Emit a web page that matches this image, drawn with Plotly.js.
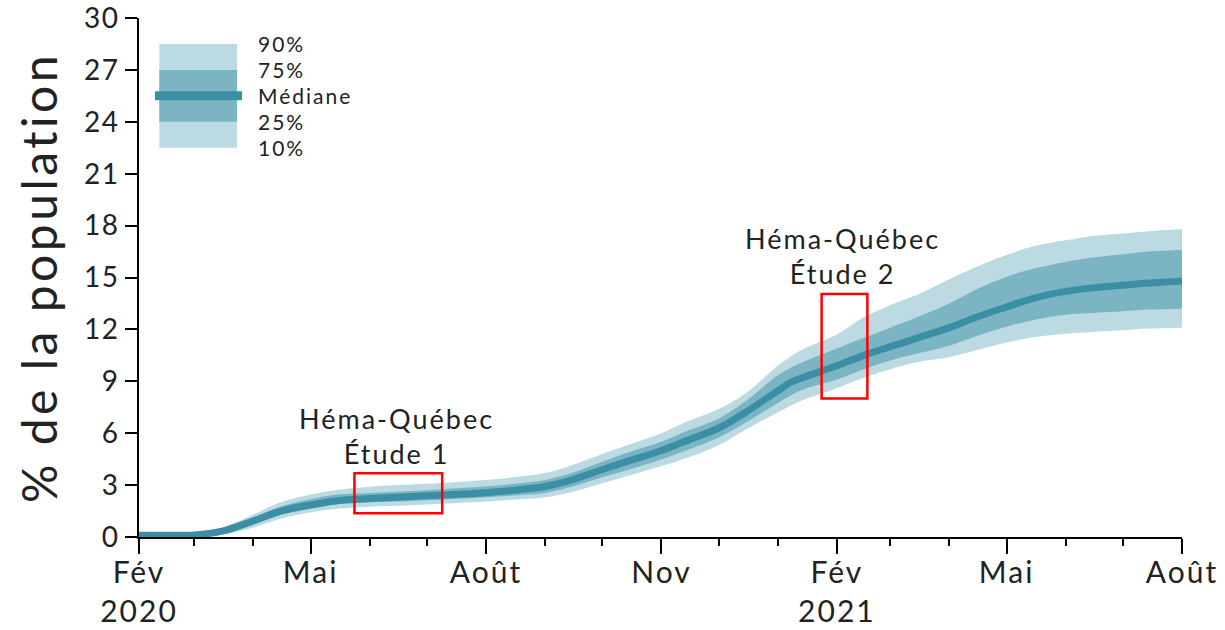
<!DOCTYPE html>
<html><head><meta charset="utf-8">
<script src="https://cdn.plot.ly/plotly-3.0.1.min.js"></script>
<style>
html,body{margin:0;padding:0;background:#fff}
#chart{width:1225px;height:630px}
#chart text{letter-spacing:1.5px}
#chart .xtick text{letter-spacing:2px}
#chart .annotation-text{letter-spacing:2px}
#chart .g-ytitle text{letter-spacing:3.5px}
</style>
</head><body><div id="chart"></div>
<script>
// Dates and percentile series (% of population)
const dates = ['2020-02-01','2020-02-15','2020-03-01','2020-03-15','2020-04-01','2020-04-15','2020-05-01','2020-05-15','2020-06-01','2020-06-15','2020-07-01','2020-07-15','2020-08-01','2020-08-15','2020-09-01','2020-09-15','2020-10-01','2020-10-15','2020-11-01','2020-11-15','2020-12-01','2020-12-15','2021-01-01','2021-01-08','2021-01-15','2021-02-01','2021-02-15','2021-03-01','2021-03-15','2021-04-01','2021-04-15','2021-05-01','2021-05-15','2021-06-01','2021-06-15','2021-07-01','2021-07-15','2021-08-01'];
const p10 = [0.05,0.05,0.05,0.12,0.55,1.05,1.42,1.63,1.75,1.80,1.88,1.95,2.05,2.15,2.30,2.60,3.10,3.55,4.10,4.60,5.30,6.20,7.20,7.60,7.95,8.60,9.20,9.70,10.10,10.40,10.80,11.25,11.55,11.75,11.85,11.95,12.05,12.10];
const p25 = [0.08,0.08,0.09,0.22,0.78,1.28,1.65,1.90,2.00,2.05,2.12,2.20,2.30,2.40,2.55,2.90,3.45,3.90,4.50,5.05,5.75,6.60,7.75,8.20,8.55,9.10,9.70,10.20,10.60,11.05,11.60,12.15,12.55,12.85,12.95,13.05,13.15,13.20];
const p50 = [0.10,0.10,0.12,0.32,0.93,1.48,1.85,2.10,2.22,2.30,2.38,2.46,2.56,2.70,2.92,3.30,3.90,4.40,5.00,5.60,6.30,7.20,8.45,8.95,9.25,9.90,10.50,11.00,11.50,12.10,12.70,13.30,13.80,14.20,14.40,14.55,14.68,14.80];
const p75 = [0.13,0.13,0.16,0.42,1.12,1.75,2.18,2.45,2.55,2.62,2.70,2.80,2.92,3.07,3.30,3.70,4.35,4.90,5.50,6.15,6.85,7.85,9.35,9.80,10.15,10.90,11.50,12.10,12.70,13.50,14.30,15.05,15.50,15.90,16.15,16.35,16.50,16.60];
const p90 = [0.18,0.18,0.22,0.52,1.30,2.00,2.45,2.72,2.90,3.00,3.08,3.17,3.30,3.45,3.70,4.15,4.80,5.35,6.00,6.70,7.40,8.30,9.90,10.45,10.90,11.70,12.70,13.40,14.00,14.90,15.60,16.30,16.80,17.15,17.40,17.55,17.68,17.80];

// Axis ticks
const yTicks = [0,3,6,9,12,15,18,21,24,27,30];
const xTickVals = ['2020-02-01','2020-05-01','2020-08-01','2020-11-01','2021-02-01','2021-05-01','2021-08-01'];
const xTickText = ['Fév<br>2020','Mai','Août','Nov','Fév<br>2021','Mai','Août'];
const xMinorVals = ['2020-03-01','2020-04-01','2020-06-01','2020-07-01','2020-09-01','2020-10-01','2020-12-01','2021-01-01','2021-03-01','2021-04-01','2021-06-01','2021-07-01'];

// Studies (Héma-Québec)
const studyNames = ['Héma-Québec<br>Étude 1','Héma-Québec<br>Étude 2'];
const studyStart = ['2020-05-24','2021-01-24'];
const studyEnd = ['2020-07-09','2021-02-17'];
const studyLow = [1.38, 8.0];
const studyHigh = [3.68, 14.05];
const studyLabelX = ['2020-06-15','2021-02-04'];
const studyLabelY = [5.86, 16.25];

// Custom legend
const legendLabels = ['90%','75%','Médiane','25%','10%'];
const legendLevels = [28.5, 27, 25.5, 24, 22.5];

const cLight = '#bcdae1', cMid = '#7bb4c3', cDark = '#3a8fa5';
const FONT = 'Lato, "Open Sans", sans-serif';

const base = {x: dates, mode: 'lines', hoverinfo: 'skip', showlegend: false};
const traces = [
  Object.assign({}, base, {y: p10, line: {width: 0, shape: 'spline', color: cLight}}),
  Object.assign({}, base, {y: p90, line: {width: 0, shape: 'spline', color: cLight}, fill: 'tonexty', fillcolor: cLight}),
  Object.assign({}, base, {y: p25, line: {width: 0, shape: 'spline', color: cMid}}),
  Object.assign({}, base, {y: p75, line: {width: 0, shape: 'spline', color: cMid}, fill: 'tonexty', fillcolor: cMid}),
  Object.assign({}, base, {y: p50, line: {width: 7, shape: 'spline', color: cDark}})
];

const shapes = [
  {type: 'rect', xref: 'paper', yref: 'y', x0: 0.0195, x1: 0.094, y0: legendLevels[4], y1: legendLevels[0], fillcolor: cLight, line: {width: 0}, layer: 'below'},
  {type: 'rect', xref: 'paper', yref: 'y', x0: 0.0195, x1: 0.094, y0: legendLevels[3], y1: legendLevels[1], fillcolor: cMid, line: {width: 0}, layer: 'below'},
  {type: 'line', xref: 'paper', yref: 'y', x0: 0.0153, x1: 0.0988, y0: legendLevels[2], y1: legendLevels[2], line: {color: cDark, width: 9}}
];
studyStart.forEach((s, i) => shapes.push({type: 'rect', xref: 'x', yref: 'y', x0: s, x1: studyEnd[i], y0: studyLow[i], y1: studyHigh[i], line: {color: '#ff0000', width: 2.5}, fillcolor: 'rgba(0,0,0,0)'}));

const annotations = [];
legendLabels.forEach((t, i) => annotations.push({xref: 'paper', yref: 'y', x: 0.112, y: legendLevels[i], xanchor: 'left', yanchor: 'middle', align: 'left', text: t, showarrow: false, font: {family: FONT, size: 21, color: '#222'}}));
studyNames.forEach((t, i) => annotations.push({xref: 'x', yref: 'y', x: studyLabelX[i], y: studyLabelY[i], xanchor: 'center', yanchor: 'middle', text: t, showarrow: false, font: {family: FONT, size: 27, color: '#222'}}));

const layout = {
  width: 1225, height: 630,
  margin: {l: 139, r: 43, t: 18, b: 93},
  paper_bgcolor: '#fff', plot_bgcolor: '#fff',
  font: {family: FONT, color: '#222'},
  xaxis: {
    type: 'date', range: ['2020-02-01', '2021-08-01'],
    tickmode: 'array', tickvals: xTickVals, ticktext: xTickText,
    ticks: 'outside', ticklen: 15, tickwidth: 2, tickcolor: '#000',
    ticklabelstandoff: -7, ticklabeloverflow: 'allow',
    minor: {tickmode: 'array', tickvals: xMinorVals, ticks: 'outside', ticklen: 7, tickwidth: 2, tickcolor: '#000', showgrid: false},
    showline: true, linewidth: 2, linecolor: '#000', showgrid: false, zeroline: false,
    tickfont: {family: FONT, size: 30, color: '#222'}
  },
  yaxis: {
    range: [0, 30], tickmode: 'array', tickvals: yTicks,
    ticks: 'outside', ticklen: 12, tickwidth: 2, tickcolor: '#000',
    ticklabeloverflow: 'allow',
    showline: true, linewidth: 2, linecolor: '#000', showgrid: false, zeroline: false,
    tickfont: {family: FONT, size: 28, color: '#222'},
    title: {text: '% de la population', font: {family: FONT, size: 48, color: '#222'}, standoff: 14}
  },
  shapes: shapes,
  annotations: annotations
};

Plotly.newPlot('chart', traces, layout, {staticPlot: true, displayModeBar: false});
</script>
</body></html>
